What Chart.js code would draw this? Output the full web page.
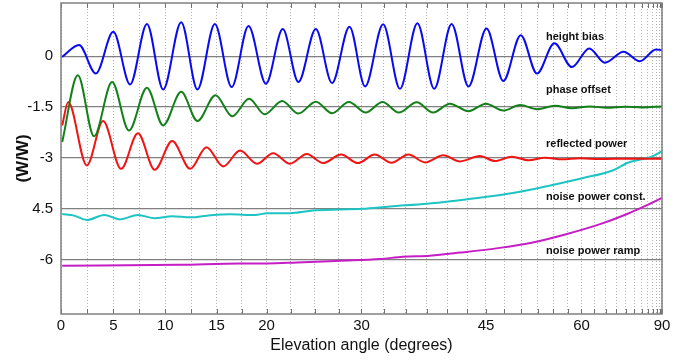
<!DOCTYPE html>
<html><head><meta charset="utf-8">
<script src="https://cdn.jsdelivr.net/npm/chart.js@4/dist/chart.umd.min.js"></script>
<style>html,body{margin:0;padding:0;background:#fff}#wrap{width:690px;height:360px}</style>
</head><body><div id="wrap"><canvas id="c" width="690" height="360"></canvas></div>
<script>
// x values are sin(elevation angle); axis is linear in sin(elevation)
const xTickDegrees = [0,2.5,5,7.5,10,12.5,15,17.5,20,22.5,25,27.5,30,32.5,35,37.5,40,42.5,45,47.5,50,52.5,55,57.5,60,62.5,65,67.5,70,72.5,75,77.5,80,82.5,85,87.5,90];
const xLabeledDegrees = [0,5,10,15,20,30,45,60,90];
const yTickValues = [-6,-4.5,-3,-1.5,0];
const yTickLabels = ["-6","4.5","-3","-1.5","0"];

const seriesNames = ["height bias","phase offset","reflected power","noise power const.","noise power ramp"];

const heightBiasX = [0.002,0.030,0.058,0.087,0.115,0.143,0.170,0.200,0.227,0.256,0.284,0.312,0.341,0.369,0.395,0.424,0.451,0.480,0.506,0.536,0.564,0.593,0.621,0.650,0.678,0.708,0.736,0.765,0.792,0.821,0.850,0.879,0.905,0.936,0.963,0.990,1.000];
const heightBiasY = [-0.02,0.33,-0.51,0.72,-0.83,0.95,-0.98,1.00,-0.98,0.95,-0.91,0.89,-0.81,0.80,-0.76,0.80,-0.79,0.87,-0.89,0.94,-0.96,0.97,-0.96,0.95,-0.89,0.82,-0.73,0.62,-0.51,0.38,-0.32,0.23,-0.19,0.13,-0.15,0.20,0.18];

const phaseOffsetX = [0.002,0.028,0.055,0.085,0.113,0.143,0.170,0.200,0.227,0.257,0.285,0.313,0.339,0.368,0.395,0.424,0.451,0.479,0.507,0.535,0.562,0.592,0.619,0.647,0.678,0.707,0.736,0.764,0.792,0.822,0.850,0.880,0.908,0.938,0.968,1.000];
const phaseOffsetY = [-2.53,-0.56,-2.36,-0.76,-2.19,-0.93,-2.04,-1.05,-1.91,-1.15,-1.77,-1.25,-1.71,-1.32,-1.69,-1.34,-1.68,-1.35,-1.66,-1.35,-1.66,-1.36,-1.66,-1.40,-1.62,-1.40,-1.60,-1.44,-1.56,-1.46,-1.53,-1.48,-1.52,-1.49,-1.51,-1.48];

const reflectedPowerX = [0.002,0.012,0.043,0.070,0.100,0.128,0.156,0.185,0.215,0.242,0.270,0.298,0.326,0.353,0.381,0.409,0.436,0.466,0.494,0.522,0.550,0.578,0.606,0.636,0.664,0.697,0.722,0.750,0.778,0.805,0.834,0.864,0.897,0.947,1.000];
const reflectedPowerY = [-2.04,-1.35,-3.22,-1.91,-3.32,-2.27,-3.35,-2.50,-3.32,-2.68,-3.25,-2.78,-3.17,-2.86,-3.17,-2.88,-3.15,-2.90,-3.15,-2.90,-3.14,-2.90,-3.13,-2.92,-3.10,-2.94,-3.09,-2.96,-3.07,-2.99,-3.04,-3.01,-3.03,-3.02,-3.02];

const noiseConstX = [0.002,0.022,0.043,0.072,0.098,0.128,0.156,0.185,0.215,0.243,0.281,0.323,0.343,0.381,0.419,0.464,0.502,0.547,0.609,0.656,0.702,0.759,0.814,0.869,0.918,0.943,0.983,1.000];
const noiseConstY = [-4.65,-4.70,-4.83,-4.68,-4.81,-4.68,-4.78,-4.72,-4.75,-4.70,-4.66,-4.68,-4.63,-4.63,-4.55,-4.52,-4.50,-4.43,-4.35,-4.26,-4.16,-4.01,-3.81,-3.59,-3.37,-3.14,-2.96,-2.80];

const noiseRampX = [0.002,0.198,0.298,0.343,0.393,0.464,0.531,0.569,0.614,0.664,0.730,0.785,0.842,0.897,0.942,0.980,1.000];
const noiseRampY = [-6.18,-6.15,-6.11,-6.11,-6.08,-6.03,-5.98,-5.91,-5.88,-5.79,-5.65,-5.49,-5.24,-4.95,-4.65,-4.35,-4.18];

const seriesColors = ["#0a0af0","#13801a","#f01414","#1ec4c4","#c41ec4"];
// label anchor (data coords, left edge / vertical middle)
const labelAnchorX = 0.807;
const labelAnchorY = [0.56,-1.0,-2.58,-4.15,-5.73];

const xs = [heightBiasX, phaseOffsetX, reflectedPowerX, noiseConstX, noiseRampX];
const ys = [heightBiasY, phaseOffsetY, reflectedPowerY, noiseConstY, noiseRampY];

const datasets = seriesNames.map((name, k) => ({
  label: name,
  data: xs[k].map((x, i) => ({x: x, y: ys[k][i]})),
  borderColor: seriesColors[k],
  borderWidth: 2,
  pointRadius: 0,
  fill: false,
  cubicInterpolationMode: 'monotone'
}));

const deg2sin = d => Math.sin(d * Math.PI / 180);

const framePlugin = {
  id: 'frame',
  afterDatasetsDraw(chart) {
    const ctx = chart.ctx;
    const xs = chart.scales.x, yS = chart.scales.y;
    ctx.save();
    ctx.fillStyle = '#111';
    ctx.font = 'bold 11px "Liberation Sans", Arial, sans-serif';
    ctx.textBaseline = 'middle';
    ctx.textAlign = 'left';
    seriesNames.forEach((n, k) => {
      ctx.fillText(n, xs.getPixelForValue(labelAnchorX), yS.getPixelForValue(labelAnchorY[k]));
    });
    ctx.restore();
  },
  afterDraw(chart) {
    const ctx = chart.ctx, a = chart.chartArea;
    const xS = chart.scales.x;
    ctx.save();
    ctx.strokeStyle = '#707070';
    ctx.lineWidth = 1;
    ctx.beginPath();
    xS.ticks.forEach((t, i) => {
      const px = Math.round(xS.getPixelForTick(i)) + 0.5;
      ctx.moveTo(px, a.top); ctx.lineTo(px, a.top + 5);
      ctx.moveTo(px, a.bottom); ctx.lineTo(px, a.bottom - 5);
    });
    ctx.stroke();
    ctx.strokeStyle = '#808080';
    ctx.lineWidth = 1.5;
    ctx.strokeRect(a.left, a.top, a.right - a.left, a.bottom - a.top);
    ctx.restore();
  }
};

new Chart(document.getElementById('c'), {
  type: 'line',
  data: { datasets },
  options: {
    responsive: false,
    animation: false,
    layout: { padding: { top: 3, right: 28, left: 0, bottom: 0 } },
    plugins: { legend: { display: false }, tooltip: { enabled: false } },
    scales: {
      x: {
        type: 'linear', min: 0, max: 1,
        afterFit: s => { s.height = 46; s.paddingLeft = 0; s.paddingRight = 0; },
        afterBuildTicks: s => { s.ticks = xTickDegrees.map(d => ({ value: deg2sin(d) })); },
        ticks: {
          autoSkip: false, maxRotation: 0, padding: 3,
          color: '#111',
          font: { family: '"Liberation Sans", Arial, sans-serif', size: 15 },
          callback: (v, i) => xLabeledDegrees.includes(xTickDegrees[i]) ? String(xTickDegrees[i]) : ''
        },
        grid: { color: '#b4b4b4', lineWidth: 1, drawTicks: false },
        border: { display: false, dash: [1, 2] },
        title: {
          display: true, text: 'Elevation angle (degrees)', color: '#111',
          font: { family: '"Liberation Sans", Arial, sans-serif', size: 16 },
          padding: { top: 0, bottom: 5 }
        }
      },
      y: {
        type: 'linear', min: -7.6, max: 1.57,
        afterFit: s => { s.width = 61; s.paddingTop = 0; s.paddingBottom = 0; },
        afterBuildTicks: s => { s.ticks = yTickValues.map(v => ({ value: v })); },
        ticks: {
          padding: 8, color: '#111',
          font: { family: '"Liberation Sans", Arial, sans-serif', size: 15 },
          callback: (v, i) => yTickLabels[i]
        },
        grid: { color: '#808080', lineWidth: 1.3, drawTicks: false },
        border: { display: false },
        title: {
          display: true, text: '(W/W)', color: '#111',
          font: { family: '"Liberation Sans", Arial, sans-serif', size: 17, weight: 'bold' },
          padding: { top: 13, bottom: 0 }
        }
      }
    }
  },
  plugins: [framePlugin]
});
</script>
</body></html>
